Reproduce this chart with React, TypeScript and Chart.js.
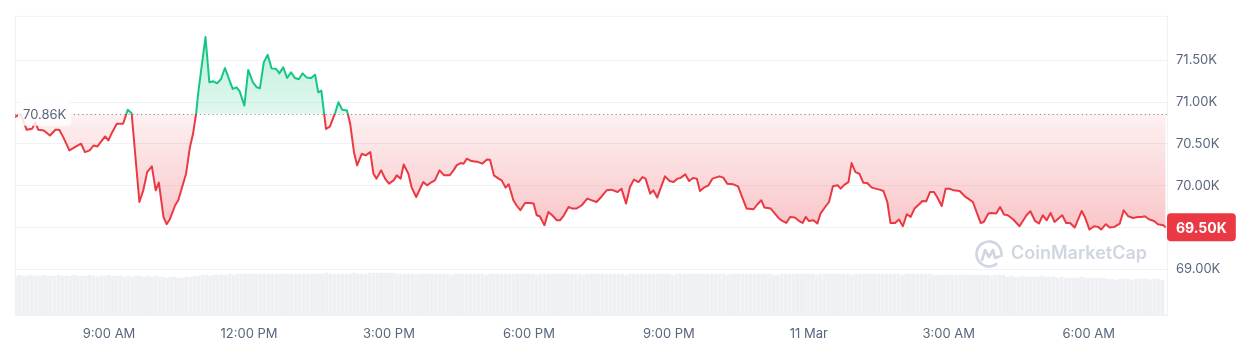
import React, { useEffect, useRef } from "react";
import { Chart, registerables } from "chart.js";

Chart.register(...registerables);

// minutes after 00:00, 10 Mar
const times = [
  419, 426, 434, 441, 445, 449, 456, 464, 471, 476,
  481, 489, 496, 504, 509, 515, 520, 525, 535, 539,
  543, 550, 558, 564, 569, 579, 584, 589, 595, 600,
  604, 610, 614, 618, 625, 629, 639, 644, 648, 652,
  655, 664, 669, 674, 679, 684, 689, 695, 699, 704,
  708, 714, 719, 725, 730, 734, 739, 744, 749, 755,
  759, 764, 769, 774, 779, 784, 789, 794, 800, 805,
  809, 813, 819, 824, 831, 835, 840, 846, 850, 855,
  859, 865, 870, 876, 880, 884, 890, 895, 900, 906,
  910, 915, 919, 925, 929, 935, 944, 949, 955, 959,
  965, 971, 978, 983, 987, 992, 996, 1000, 1006, 1015,
  1020, 1026, 1030, 1035, 1041, 1045, 1050, 1054, 1060, 1064,
  1069, 1075, 1081, 1086, 1090, 1094, 1100, 1105, 1110, 1116,
  1120, 1125, 1131, 1136, 1141, 1148, 1155, 1161, 1167, 1173,
  1180, 1186, 1194, 1199, 1205, 1210, 1215, 1221, 1226, 1230,
  1236, 1240, 1245, 1255, 1261, 1266, 1271, 1275, 1281, 1286,
  1291, 1296, 1300, 1305, 1311, 1316, 1325, 1330, 1335, 1343,
  1349, 1355, 1360, 1369, 1374, 1379, 1383, 1391, 1401, 1406,
  1411, 1416, 1422, 1428, 1432, 1436, 1440, 1446, 1451, 1455,
  1461, 1466, 1471, 1477, 1481, 1486, 1491, 1495, 1500, 1505,
  1510, 1515, 1521, 1526, 1531, 1536, 1541, 1545, 1551, 1556,
  1561, 1566, 1571, 1576, 1582, 1586, 1591, 1596, 1601, 1605,
  1611, 1616, 1621, 1626, 1634, 1641, 1645, 1651, 1661, 1665,
  1671, 1675, 1681, 1686, 1691, 1696, 1703, 1711, 1720, 1725,
  1731, 1736, 1741, 1746, 1751, 1756, 1766, 1771, 1776, 1782,
  1791, 1795, 1801, 1807, 1812, 1816, 1822, 1827, 1833, 1840,
  1845, 1851, 1857, 1863, 1868, 1872, 1878, 1884, 1889, 1896,
  1899,
];

// price in thousands of USD
const prices = [
  70.82, 70.864, 70.669, 70.681, 70.76, 70.669, 70.661, 70.601, 70.669, 70.669,
  70.581, 70.422, 70.461, 70.502, 70.401, 70.422, 70.481, 70.47, 70.589, 70.541,
  70.621, 70.741, 70.741, 70.908, 70.867, 69.804, 69.944, 70.162, 70.231, 69.944,
  70.036, 69.625, 69.538, 69.594, 69.765, 69.824, 70.143, 70.461, 70.621, 70.867,
  71.139, 71.78, 71.238, 71.25, 71.226, 71.278, 71.41, 71.258, 71.159, 71.178,
  71.13, 70.959, 71.386, 71.238, 71.178, 71.166, 71.477, 71.569, 71.405, 71.398,
  71.345, 71.417, 71.29, 71.357, 71.29, 71.274, 71.345, 71.297, 71.29, 71.33,
  71.118, 71.139, 70.681, 70.708, 70.879, 70.999, 70.908, 70.9, 70.748, 70.401,
  70.243, 70.382, 70.362, 70.401, 70.143, 70.084, 70.183, 70.084, 70.024, 70.063,
  70.123, 70.084, 70.254, 70.143, 69.983, 69.864, 70.043, 70.004, 70.043, 70.063,
  70.183, 70.123, 70.123, 70.183, 70.243, 70.27, 70.263, 70.323, 70.294, 70.282,
  70.263, 70.314, 70.311, 70.123, 70.084, 70.063, 69.976, 70.016, 69.824, 69.765,
  69.705, 69.792, 69.792, 69.785, 69.645, 69.633, 69.526, 69.685, 69.645, 69.585,
  69.585, 69.645, 69.744, 69.725, 69.725, 69.765, 69.845, 69.824, 69.804, 69.864,
  69.944, 69.952, 69.924, 69.964, 69.785, 69.983, 70.072, 70.043, 70.103, 70.084,
  69.904, 69.944, 69.857, 70.111, 70.055, 70.043, 70.084, 70.091, 70.135, 70.055,
  70.091, 70.084, 69.935, 69.976, 70.004, 70.084, 70.111, 70.096, 70.024, 70.016,
  69.992, 69.845, 69.725, 69.717, 69.777, 69.824, 69.737, 69.725, 69.613, 69.577,
  69.553, 69.625, 69.618, 69.573, 69.553, 69.625, 69.577, 69.585, 69.546, 69.665,
  69.744, 69.804, 69.992, 70.004, 69.964, 70.012, 70.043, 70.27, 70.162, 70.143,
  70.036, 70.031, 69.976, 69.964, 69.952, 69.935, 69.804, 69.553, 69.553, 69.594,
  69.514, 69.657, 69.625, 69.725, 69.777, 69.816, 69.812, 69.924, 69.924, 69.864,
  69.756, 69.964, 69.964, 69.944, 69.935, 69.869, 69.845, 69.804, 69.553, 69.565,
  69.665, 69.673, 69.665, 69.744, 69.654, 69.645, 69.594, 69.514, 69.645, 69.693,
  69.577, 69.546, 69.645, 69.585, 69.673, 69.565, 69.645, 69.553, 69.553, 69.498,
  69.697, 69.625, 69.474, 69.514, 69.506, 69.474, 69.538, 69.498, 69.506, 69.546,
  69.705, 69.633, 69.613, 69.625, 69.625, 69.633, 69.594, 69.577, 69.538, 69.526,
  69.5,
];

// volume bars: one per 5-minute interval starting at 07:00
const volStart = 420;
const volStep = 5;
const volumes = [
  39, 40, 39, 39, 40, 39, 39, 40, 39, 39, 39, 40, 39, 39, 39, 40, 39, 39, 39, 40,
  39, 38, 39, 39, 40, 39, 39, 39, 38,
  39, 38, 39, 39, 38, 39, 38, 39, 38,
  38, 37, 38, 38, 37, 37, 38, 38, 39, 39,
  40, 40, 39, 40, 40, 40, 40, 41, 40,
  41, 41, 41, 41, 41, 41, 41, 41, 41, 41, 41, 41, 41, 41, 41, 41, 41, 41, 41, 41,
  41, 41, 41, 42, 41, 41, 41, 41, 41, 41, 42, 41, 41, 41, 42, 42, 42, 42, 42, 42,
  42, 41,
  41, 41, 41, 41, 40, 41, 41, 41, 41, 41, 41, 41, 41, 40, 41, 41, 41, 41, 41, 41,
  41, 41, 40, 41, 41, 41, 41, 41, 41, 41, 41, 41, 41, 41, 41, 40, 41, 41, 41, 41,
  41, 41, 41, 41, 41, 41, 41, 40, 41, 41, 41, 41, 41, 41, 41, 41, 41, 41, 40, 41,
  41, 41, 41, 41, 41, 41, 41, 41, 41, 41, 40, 41, 41, 41, 41, 41, 41, 41, 41, 41,
  41, 41, 41, 41, 40, 41, 41, 41, 41, 41, 41, 41, 41, 41, 41, 41, 40, 40, 41, 41,
  41, 41, 41, 41, 41, 41, 41, 40, 41, 41, 41, 41, 41, 41, 41, 41, 40, 41, 41, 41,
  41, 41, 41, 41, 41, 41, 41, 41, 41, 40, 41, 41, 41, 41, 41, 41, 41, 40, 40, 40,
  40, 40,
  40, 40, 40, 40, 40, 40, 40, 40, 40, 40, 39, 40, 40, 40,
  38, 39, 38, 38, 39, 38, 38, 38, 38, 39, 38, 38, 38,
  37, 38, 37, 37, 37, 37, 38, 37, 37, 37, 37, 37, 37,
  36, 36, 35, 36, 36, 36, 35, 36, 36, 36, 36, 35, 36, 36, 35,
];

const baseline = 70.86;
const xTickValues = [540, 720, 900, 1080, 1260, 1440, 1620, 1800];
const xTickLabels = ["9:00 AM", "12:00 PM", "3:00 PM", "6:00 PM", "9:00 PM", "11 Mar", "3:00 AM", "6:00 AM"];
const yTickValues = [69, 69.5, 70, 70.5, 71, 71.5];

const GREEN = "#16c784";
const RED = "#ea3943";
const TEXT = "#58667e";
const GRID = "#eff2f5";
const FONT = "Inter, 'Noto Sans', sans-serif";

function baselineFrac(chart: any) {
  const { chartArea, scales } = chart;
  const yb = scales.y.getPixelForValue(baseline);
  return Math.min(1, Math.max(0, (yb - chartArea.top) / (chartArea.bottom - chartArea.top)));
}

function lineGradient(chart: any) {
  const { ctx, chartArea, scales } = chart;
  if (!chartArea || !scales || !scales.y) return RED;
  const f = baselineFrac(chart);
  const g = ctx.createLinearGradient(0, chartArea.top, 0, chartArea.bottom);
  g.addColorStop(0, GREEN);
  g.addColorStop(f, GREEN);
  g.addColorStop(f, RED);
  g.addColorStop(1, RED);
  return g;
}

function fillGradient(chart: any) {
  const { ctx, chartArea, scales } = chart;
  if (!chartArea || !scales || !scales.y) return "rgba(234,57,67,0.1)";
  const f = baselineFrac(chart);
  const lowPx = scales.y.getPixelForValue(Math.min(...prices));
  const fl = Math.min(1, Math.max(f, (lowPx - chartArea.top) / (chartArea.bottom - chartArea.top)));
  const g = ctx.createLinearGradient(0, chartArea.top, 0, chartArea.bottom);
  g.addColorStop(0, "rgba(22,199,132,0.32)");
  g.addColorStop(f, "rgba(22,199,132,0.13)");
  g.addColorStop(f, "rgba(234,57,67,0.07)");
  g.addColorStop(fl, "rgba(234,57,67,0.29)");
  g.addColorStop(1, "rgba(234,57,67,0.33)");
  return g;
}

const backgroundPlugin = {
  id: "cmcBackground",
  beforeDatasetsDraw(chart: any) {
    const { ctx, chartArea: a, scales } = chart;
    ctx.save();
    // frame
    ctx.strokeStyle = GRID;
    ctx.lineWidth = 1;
    ctx.strokeRect(a.left + 0.5, a.top + 0.5, a.right - a.left - 1, a.bottom - a.top);
    // watermark
    const wm = "#cfd5e1";
    const cx = a.right - 179;
    const cy = a.bottom - 61;
    ctx.strokeStyle = wm;
    ctx.lineWidth = 2.6;
    ctx.lineCap = "round";
    ctx.lineJoin = "round";
    ctx.beginPath();
    ctx.arc(cx, cy, 12.5, 0.3 * Math.PI, 2.05 * Math.PI);
    ctx.stroke();
    ctx.beginPath();
    ctx.moveTo(cx - 7, cy + 6);
    ctx.lineTo(cx - 4, cy - 4);
    ctx.lineTo(cx, cy + 3);
    ctx.lineTo(cx + 4, cy - 4);
    ctx.lineTo(cx + 6, cy + 4);
    ctx.lineTo(cx + 10, cy + 2.5);
    ctx.stroke();
    ctx.fillStyle = wm;
    ctx.font = `600 18px ${FONT}`;
    ctx.textAlign = "left";
    ctx.textBaseline = "middle";
    ctx.fillText("CoinMarketCap", cx + 22, cy);
    // dotted baseline
    const yb = Math.round(scales.y.getPixelForValue(baseline)) + 0.5;
    ctx.strokeStyle = "#8d94a0";
    ctx.lineWidth = 1.2;
    ctx.lineCap = "butt";
    ctx.setLineDash([1.2, 3]);
    ctx.beginPath();
    ctx.moveTo(a.left, yb);
    ctx.lineTo(a.right, yb);
    ctx.stroke();
    ctx.restore();
  },
};

const overlayPlugin = {
  id: "cmcOverlay",
  afterDatasetsDraw(chart: any) {
    const { ctx, chartArea: a, scales } = chart;
    ctx.save();
    const yb = scales.y.getPixelForValue(baseline);
    ctx.font = `13px ${FONT}`;
    const label = baseline.toFixed(2) + "K";
    const tw = ctx.measureText(label).width;
    const bx = a.left + 3;
    const bw = tw + 10;
    const bh = 24;
    ctx.fillStyle = "rgba(255,255,255,0.85)";
    ctx.beginPath();
    ctx.roundRect(bx, yb - bh / 2, bw, bh, 4);
    ctx.fill();
    ctx.fillStyle = TEXT;
    ctx.textAlign = "left";
    ctx.textBaseline = "middle";
    ctx.fillText(label, bx + 5, yb + 1);
    ctx.restore();
  },
  afterDraw(chart: any) {
    const { ctx, chartArea: a, scales } = chart;
    const last = prices[prices.length - 1];
    const yl = scales.y.getPixelForValue(last);
    ctx.save();
    ctx.font = `bold 14px ${FONT}`;
    const label = last.toFixed(2) + "K";
    const tw = ctx.measureText(label).width;
    const bx = a.right - 1;
    const bw = tw + 18;
    const bh = 28;
    ctx.fillStyle = RED;
    ctx.beginPath();
    ctx.roundRect(bx, yl - bh / 2, bw, bh, 4);
    ctx.fill();
    ctx.fillStyle = "#ffffff";
    ctx.textAlign = "left";
    ctx.textBaseline = "middle";
    ctx.fillText(label, bx + 9, yl + 1);
    ctx.restore();
  },
};

export default function App() {
  const ref = useRef<HTMLCanvasElement>(null);

  useEffect(() => {
    if (!ref.current) return;
    const lineData = times.map((t, i) => ({ x: t, y: prices[i] }));
    const volData = volumes.map((v, i) => ({ x: volStart + i * volStep, y: v }));

    const chart = new Chart(ref.current, {
      type: "line",
      data: {
        datasets: [
          {
            type: "line",
            data: lineData,
            yAxisID: "y",
            borderWidth: 2,
            pointRadius: 0,
            tension: 0,
            borderJoinStyle: "round",
            borderColor: (c: any) => lineGradient(c.chart),
            backgroundColor: (c: any) => fillGradient(c.chart),
            fill: { value: baseline },
            order: 1,
          } as any,
          {
            type: "bar",
            data: volData,
            yAxisID: "yv",
            backgroundColor: "#eef0f3",
            borderWidth: 0,
            barThickness: 3,
            order: 2,
          } as any,
        ],
      },
      options: {
        animation: false,
        responsive: false,
        events: [],
        layout: { padding: { left: 15, top: 15, right: 0, bottom: 13 } },
        plugins: { legend: { display: false }, tooltip: { enabled: false } },
        scales: {
          x: {
            type: "linear",
            min: 419,
            max: 1902,
            offset: false,
            grid: { display: false, offset: false, drawTicks: false },
            border: { display: false },
            afterBuildTicks: (s: any) => {
              s.ticks = xTickValues.map((v) => ({ value: v }));
            },
            afterFit: (s: any) => {
              s.height = 27;
            },
            ticks: {
              autoSkip: false,
              maxRotation: 0,
              padding: 11,
              color: TEXT,
              font: { family: FONT, size: 13 },
              callback: (v: any) => {
                const i = xTickValues.indexOf(Number(v));
                return i >= 0 ? xTickLabels[i] : "";
              },
            },
          },
          y: {
            type: "linear",
            position: "right",
            min: 68.45,
            max: 72.035,
            grid: { color: GRID, drawTicks: false },
            border: { display: false },
            afterBuildTicks: (s: any) => {
              s.ticks = yTickValues.map((v) => ({ value: v }));
            },
            afterFit: (s: any) => {
              s.width = 85;
            },
            ticks: {
              padding: 8,
              color: TEXT,
              font: { family: FONT, size: 13 },
              callback: (v: any) => Number(v).toFixed(2) + "K",
            },
          },
          yv: {
            type: "linear",
            display: false,
            min: 0,
            max: 300,
          },
        },
      } as any,
      plugins: [backgroundPlugin, overlayPlugin],
    });
    return () => chart.destroy();
  }, []);

  return (
    <div style={{ position: "fixed", left: 0, top: 0, width: 1253, height: 355, background: "#ffffff" }}>
      <canvas ref={ref} width={1253} height={355} style={{ display: "block", width: 1253, height: 355 }} />
    </div>
  );
}
